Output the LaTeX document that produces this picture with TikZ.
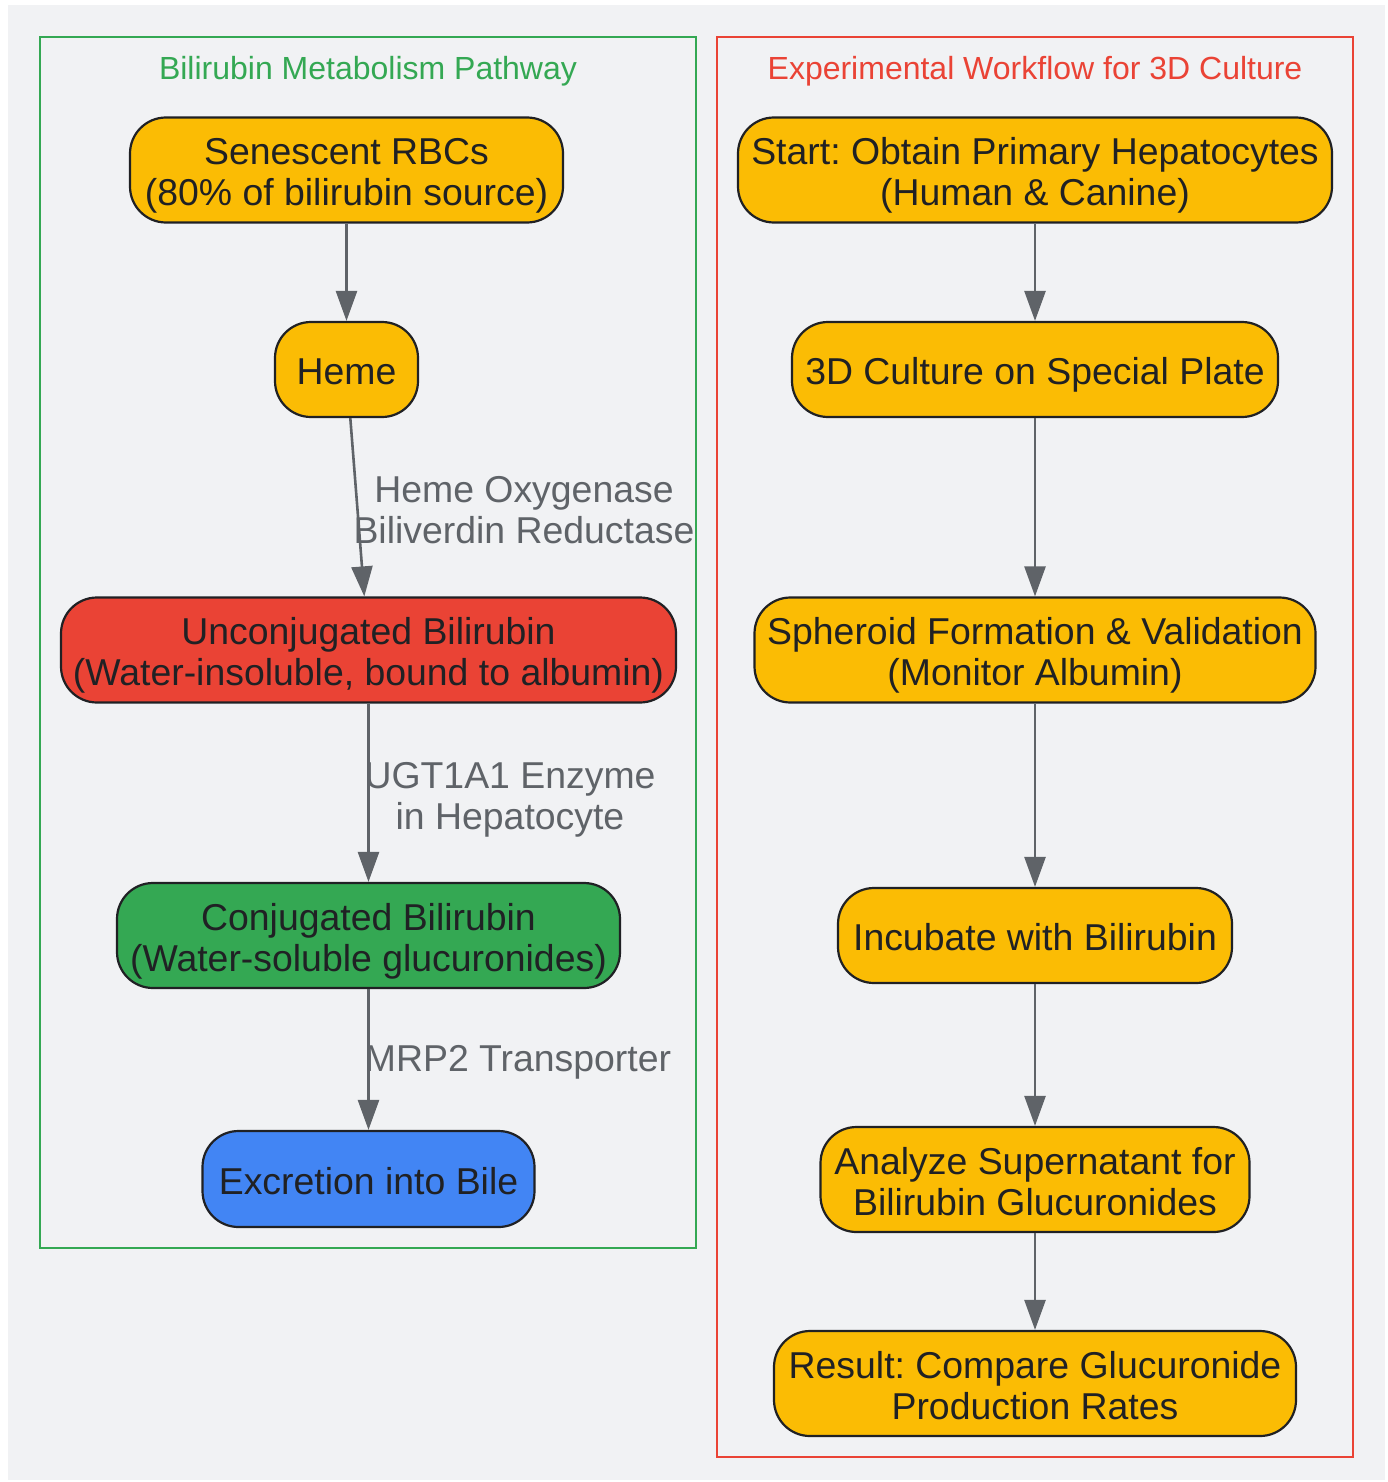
\documentclass[tikz,border=0pt]{standalone}
\usepackage{fontspec}
\setmainfont{Liberation Sans}
\usetikzlibrary{arrows.meta,calc}
\definecolor{bg}{HTML}{F1F2F4}
\definecolor{gyellow}{HTML}{FBBC04}
\definecolor{gred}{HTML}{EA4335}
\definecolor{ggreen}{HTML}{34A853}
\definecolor{gblue}{HTML}{4285F4}
\definecolor{edgegray}{HTML}{5F6368}
\definecolor{txt}{HTML}{202124}
\newcommand\nstr{\vrule width 0pt height 38pt depth 8pt\relax}
\tikzset{
  box/.style={draw=txt, line width=2.2pt, rounded corners=36pt, inner sep=0pt,
    align=center, text=txt, font=\fontsize{37.4}{41}\selectfont},
  ybox/.style={box, fill=gyellow},
  flow/.style={draw=edgegray, line width=2.6pt, -{Triangle[length=30pt,width=21pt]}},
  elabel/.style={text=edgegray, align=center, font=\fontsize{37.4}{41}\selectfont, inner sep=0pt},
  frame/.style={line width=2.7pt},
  ftitle/.style={font=\fontsize{32}{36}\selectfont, inner sep=0pt}
}
\begin{document}
\lineskiplimit=-100pt\relax
\frenchspacing
\begin{tikzpicture}[x=1pt,y=-1pt]
\useasboundingbox (0,0) rectangle (1388,1482);
\fill[white] (0,0) rectangle (1388,1482);
\fill[bg] (8,5) rectangle (1385,1480);
% clusters
\draw[frame, draw=ggreen] (40,37) rectangle (696,1248);
\node[ftitle, text=ggreen] (ltitle) at (368,71) {Bilirubin Metabolism Pathway};
\draw[frame, draw=gred] (717,37) rectangle (1353,1457);
\node[ftitle, text=gred] (rtitle) at (1035,71) {Experimental Workflow for 3D Culture};
% left nodes
\node[ybox, minimum width=433pt, minimum height=105pt] (rbc) at (346.5,170) {\nstr Senescent RBCs\\(80\% of bilirubin source)\nstr};
\node[ybox, minimum width=143pt, minimum height=95pt] (heme) at (346.5,369.5) {\nstr Heme\nstr};
\node[box, fill=gred, minimum width=615pt, minimum height=105pt] (unc) at (368.5,650) {\nstr Unconjugated Bilirubin\\(Water-insoluble, bound to albumin)\nstr};
\node[box, fill=ggreen, minimum width=503pt, minimum height=105pt] (conj) at (368.5,935.5) {\nstr Conjugated Bilirubin\\(Water-soluble glucuronides)\nstr};
\node[box, fill=gblue, minimum width=332pt, minimum height=96pt] (bile) at (368.5,1179) {\nstr Excretion into Bile\nstr};
% left edges
\draw[flow] (rbc) -- (heme);
\draw[flow] (heme) -- (unc);
\draw[flow] (unc) -- (conj);
\draw[flow] (conj) -- (bile);
\node[elabel] (l1) at (524,510) {Heme Oxygenase\\Biliverdin Reductase};
\node[elabel] (l2) at (510,800) {UGT1A1 Enzyme\\in Hepatocyte};
\node[elabel] (l3) at (518,1062) {MRP2 Transporter};
% right nodes
\node[ybox, minimum width=594pt, minimum height=105pt] (start) at (1035,170) {\nstr Start: Obtain Primary Hepatocytes\\(Human \& Canine)\nstr};
\node[ybox, minimum width=486pt, minimum height=95pt] (cult) at (1035,369.5) {\nstr 3D Culture on Special Plate\nstr};
\node[ybox, minimum width=561pt, minimum height=105pt] (sph) at (1035,650) {\nstr Spheroid Formation \& Validation\\(Monitor Albumin)\nstr};
\node[ybox, minimum width=394pt, minimum height=95pt] (inc) at (1035,935.5) {\nstr Incubate with Bilirubin\nstr};
\node[ybox, minimum width=429pt, minimum height=105pt] (ana) at (1035,1179.5) {\nstr Analyze Supernatant for\\Bilirubin Glucuronides\nstr};
\node[ybox, minimum width=522pt, minimum height=105pt] (res) at (1035,1383.5) {\nstr Result: Compare Glucuronide\\Production Rates\nstr};
\draw[flow] (start) -- (cult);
\draw[flow] (cult) -- (sph);
\draw[flow] (sph) -- (inc);
\draw[flow] (inc) -- (ana);
\draw[flow] (ana) -- (res);
\end{tikzpicture}
\end{document}
